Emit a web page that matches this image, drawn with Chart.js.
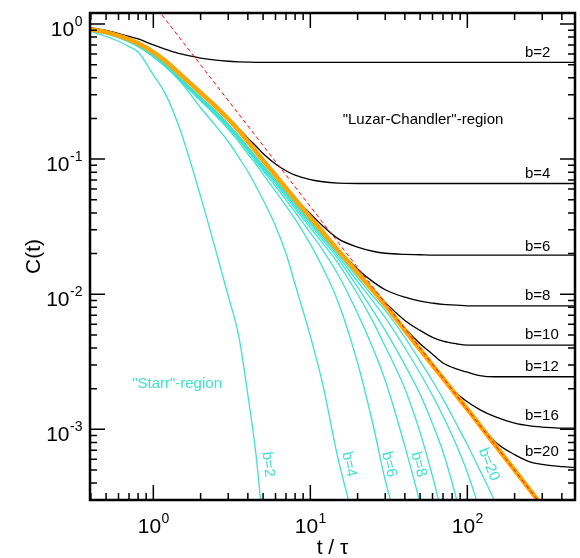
<!DOCTYPE html>
<html>
<head>
<meta charset="utf-8">
<script src="https://cdn.jsdelivr.net/npm/chart.js@4.4.0/dist/chart.umd.min.js"></script>
<style>
  html, body { margin: 0; padding: 0; background: #fff; }
  canvas { display: block; }
</style>
</head>
<body>
<canvas id="corrChart" width="580" height="558"></canvas>
<script>
// t / tau grid shared by all curves
var times = [0.4, 0.5, 0.6, 0.7, 0.8, 1, 1.2, 1.5, 2, 2.5, 3, 3.5, 4, 4.5, 5, 6, 7, 8, 10, 12, 15, 20, 25, 30, 40, 50, 60, 70, 85, 100, 120, 150, 200, 250, 300, 400, 500];

// bulk (b -> infinity) curve, thick orange
var masterC = [0.91, 0.87, 0.82, 0.77, 0.72, 0.62, 0.53, 0.42, 0.31, 0.245, 0.198, 0.163, 0.135, 0.114, 0.098, 0.076, 0.061, 0.0505, 0.0370, 0.0288, 0.0212, 0.0144, 0.0107, 0.0083, 0.0054, 0.0039, 0.00298, 0.00238, 0.00179, 0.00141, 0.00107, 0.000767, 0.000499, 0.000357, 0.000271, null, null];

// power law guide t^-3/2 (red dashed)
var guideT = [1, 300];
var guideC = [1.41, 0.000271];

// black curves ("Luzar-Chandler")
var lcB2 = [0.94, 0.895, 0.85, 0.81, 0.775, 0.70, 0.65, 0.60, 0.56, 0.54, 0.53, 0.525, 0.522, 0.52, 0.52, 0.52, 0.52, 0.52, 0.52, 0.52, 0.52, 0.52, 0.52, 0.52, 0.52, 0.52, 0.52, 0.52, 0.52, 0.52, 0.52, 0.52, 0.52, 0.52, 0.52, 0.52, 0.52];
var lcB4 = [null, null, null, null, null, null, null, null, null, 0.246, 0.20, 0.168, 0.143, 0.125, 0.110, 0.092, 0.082, 0.076, 0.0705, 0.068, 0.0665, 0.066, 0.066, 0.066, 0.066, 0.066, 0.066, 0.066, 0.066, 0.066, 0.066, 0.066, 0.066, 0.066, 0.066, 0.066, 0.066];
var lcB6 = [null, null, null, null, null, null, null, null, null, null, null, null, null, null, null, null, 0.0612, 0.0512, 0.0395, 0.032, 0.0258, 0.0223, 0.0208, 0.0201, 0.0197, 0.0196, 0.0195, 0.0195, 0.0195, 0.0195, 0.0195, 0.0195, 0.0195, 0.0195, 0.0195, 0.0195, 0.0195];
var lcB8 = [null, null, null, null, null, null, null, null, null, null, null, null, null, null, null, null, null, null, null, 0.029, 0.0216, 0.0153, 0.0124, 0.0108, 0.0095, 0.0089, 0.0086, 0.0084, 0.0083, 0.0082, 0.0082, 0.0082, 0.0082, 0.0082, 0.0082, 0.0082, 0.0082];
var lcB10 = [null, null, null, null, null, null, null, null, null, null, null, null, null, null, null, null, null, null, null, null, null, 0.0145, 0.0110, 0.0087, 0.0064, 0.0054, 0.0048, 0.0045, 0.0043, 0.0042, 0.0042, 0.0042, 0.0042, 0.0042, 0.0042, 0.0042, 0.0042];
var lcB12 = [null, null, null, null, null, null, null, null, null, null, null, null, null, null, null, null, null, null, null, null, null, null, null, 0.0084, 0.0056, 0.0043, 0.0036, 0.0031, 0.0028, 0.00265, 0.0025, 0.00245, 0.00245, 0.00245, 0.00245, 0.00245, 0.00245];
var lcB16 = [null, null, null, null, null, null, null, null, null, null, null, null, null, null, null, null, null, null, null, null, null, null, null, null, null, null, 0.0030, 0.0024, 0.00186, 0.0016, 0.0014, 0.00124, 0.00111, 0.00106, 0.00104, 0.00102, 0.00102];
var lcB20 = [null, null, null, null, null, null, null, null, null, null, null, null, null, null, null, null, null, null, null, null, null, null, null, null, null, null, null, null, null, 0.00142, 0.0011, 0.00081, 0.00065, 0.000575, 0.00055, 0.00053, 0.00052];

// cyan curves ("Starr")
var stB2 = [0.88, 0.81, 0.745, 0.68, 0.62, 0.42, 0.30, 0.158, 0.053, 0.021, 0.0097, 0.0049, 0.0018, 0.00066, 0.00019, null, null, null, null, null, null, null, null, null, null, null, null, null, null, null, null, null, null, null, null, null, null];
var stB4 = [0.89, 0.85, 0.80, 0.75, 0.69, 0.57, 0.48, 0.37, 0.24, 0.176, 0.135, 0.103, 0.081, 0.063, 0.050, 0.032, 0.020, 0.0118, 0.0049, 0.00215, 0.00061, 0.00017, null, null, null, null, null, null, null, null, null, null, null, null, null, null, null];
var stB6 = [0.896, 0.848, 0.791, 0.735, 0.680, 0.574, 0.482, 0.374, 0.270, 0.209, 0.166, 0.134, 0.109, 0.092, 0.077, 0.058, 0.045, 0.036, 0.0235, 0.0157, 0.0088, 0.0031, 0.0011, 0.00042, 0.00013, null, null, null, null, null, null, null, null, null, null, null, null];
var stB8 = [0.898, 0.851, 0.794, 0.739, 0.684, 0.578, 0.487, 0.378, 0.274, 0.214, 0.171, 0.139, 0.114, 0.096, 0.082, 0.063, 0.050, 0.0405, 0.0285, 0.0212, 0.0140, 0.0072, 0.0040, 0.0023, 0.00075, 0.00028, 0.0001, null, null, null, null, null, null, null, null, null, null];
var stB10 = [0.901, 0.853, 0.796, 0.742, 0.687, 0.582, 0.49, 0.382, 0.278, 0.217, 0.174, 0.142, 0.117, 0.0985, 0.0845, 0.066, 0.0525, 0.0430, 0.0310, 0.0238, 0.0170, 0.0100, 0.0063, 0.0041, 0.0020, 0.00095, 0.00045, 0.00022, null, null, null, null, null, null, null, null, null];
var stB12 = [0.901, 0.854, 0.799, 0.744, 0.690, 0.585, 0.493, 0.386, 0.281, 0.221, 0.177, 0.145, 0.119, 0.101, 0.0865, 0.068, 0.0545, 0.0448, 0.0325, 0.0252, 0.0183, 0.0113, 0.0076, 0.0054, 0.0030, 0.00182, 0.0011, 0.00068, 0.00031, 0.00014, null, null, null, null, null, null, null];
var stB16 = [0.903, 0.857, 0.801, 0.747, 0.693, 0.588, 0.497, 0.39, 0.285, 0.224, 0.180, 0.147, 0.121, 0.103, 0.0885, 0.0695, 0.0560, 0.0462, 0.0338, 0.0263, 0.0192, 0.0124, 0.0089, 0.0067, 0.0040, 0.0026, 0.00178, 0.00125, 0.00077, 0.00048, 0.00025, 0.0001, null, null, null, null, null];
var stB20 = [0.905, 0.86, 0.804, 0.75, 0.696, 0.591, 0.50, 0.394, 0.288, 0.227, 0.182, 0.149, 0.1235, 0.1045, 0.0900, 0.0705, 0.0570, 0.0472, 0.0347, 0.0271, 0.0199, 0.0133, 0.0097, 0.0076, 0.0048, 0.0032, 0.00228, 0.00168, 0.0011, 0.00077, 0.0005, 0.00029, 0.00012, null, null, null, null];

// curve labels
var lcLabels = ['b=2', 'b=4', 'b=6', 'b=8', 'b=10', 'b=12', 'b=16', 'b=20'];
var lcLabelC = [0.570, 0.0728, 0.0208, 0.00902, 0.00470, 0.00269, 0.00117, 0.000634];
var stLabels = ['b=2', 'b=4', 'b=6', 'b=8', 'b=20'];
var stLabelT = [5.38, 17.6, 31.7, 48.9, 137];

// axis ticks
var xTickValues = [1, 10, 100];
var xTickExps = ['0', '1', '2'];
var yTickValues = [1, 0.1, 0.01, 0.001];
var yTickExps = ['0', '-1', '-2', '-3'];

var BLACK = '#000000';
var CYAN = '#40e0d0';
var FONT = "'Liberation Sans', Arial, sans-serif";

function curve(vals, color, width) {
    return {
        data: times.map(function (t, i) { return { x: t, y: vals[i] }; }),
        borderColor: color,
        borderWidth: width,
        pointRadius: 0,
        fill: false,
        cubicInterpolationMode: 'monotone',
        clip: 0
    };
}

// superscript label "10^e"
function powerLabel(ctx, exp, x, y, align) {
    ctx.font = '21px ' + FONT;
    var w1 = ctx.measureText('10').width;
    ctx.font = '14px ' + FONT;
    var w2 = ctx.measureText(exp).width;
    var left = align === 'right' ? x - w1 - w2 : x - (w1 + w2) / 2;
    ctx.textAlign = 'left';
    ctx.textBaseline = 'alphabetic';
    ctx.font = '21px ' + FONT;
    ctx.fillText('10', left, y);
    ctx.font = '14px ' + FONT;
    ctx.fillText(exp, left + w1 + 0.5, y - 10);
}

var decorPlugin = {
    id: 'decor',
    afterDraw: function (chart) {
        var ctx = chart.ctx;
        var a = chart.chartArea;
        var xs = chart.scales.x, ys = chart.scales.y;
        ctx.save();

        // inward ticks on all four sides
        ctx.strokeStyle = BLACK;
        ctx.lineWidth = 1.5;
        ctx.beginPath();
        [0.1, 1, 10, 100].forEach(function (d) {
            for (var m = 1; m <= 9; m++) {
                var v = m * d;
                if (v < xs.min || v > xs.max) continue;
                var px = xs.getPixelForValue(v);
                var len = m === 1 ? 15 : 7;
                ctx.moveTo(px, a.bottom); ctx.lineTo(px, a.bottom - len);
                ctx.moveTo(px, a.top); ctx.lineTo(px, a.top + len);
            }
        });
        [0.0001, 0.001, 0.01, 0.1, 1].forEach(function (d) {
            for (var m = 1; m <= 9; m++) {
                var v = m * d;
                if (v < ys.min || v > ys.max) continue;
                var py = ys.getPixelForValue(v);
                var len = m === 1 ? 15 : 7;
                ctx.moveTo(a.left, py); ctx.lineTo(a.left + len, py);
                ctx.moveTo(a.right, py); ctx.lineTo(a.right - len, py);
            }
        });
        ctx.stroke();

        // frame
        ctx.lineWidth = 2.5;
        ctx.strokeRect(a.left, a.top, a.right - a.left, a.bottom - a.top);

        // tick labels
        ctx.fillStyle = BLACK;
        xTickValues.forEach(function (v, i) {
            powerLabel(ctx, xTickExps[i], xs.getPixelForValue(v), a.bottom + 33, 'center');
        });
        yTickValues.forEach(function (v, i) {
            powerLabel(ctx, yTickExps[i], 82, ys.getPixelForValue(v) + 12, 'right');
        });

        // axis titles
        ctx.font = '21px ' + FONT;
        ctx.textAlign = 'center';
        ctx.textBaseline = 'alphabetic';
        ctx.fillText('t / \u03c4', (a.left + a.right) / 2, 554);
        ctx.save();
        ctx.translate(40, (a.top + a.bottom) / 2);
        ctx.rotate(-Math.PI / 2);
        ctx.fillText('C(t)', 0, 0);
        ctx.restore();

        // black curve labels
        ctx.font = '15px ' + FONT;
        ctx.textAlign = 'left';
        lcLabels.forEach(function (s, i) {
            ctx.fillText(s, xs.getPixelForValue(233), ys.getPixelForValue(lcLabelC[i]));
        });
        ctx.textAlign = 'center';
        ctx.fillText('"Luzar-Chandler"-region', xs.getPixelForValue(52.2), ys.getPixelForValue(0.1824));

        // cyan labels
        ctx.fillStyle = CYAN;
        ctx.fillText('"Starr"-region', xs.getPixelForValue(1.416), ys.getPixelForValue(0.00204));
        var rot = [83, 78, 76, 75, 68];
        ctx.textBaseline = 'middle';
        stLabels.forEach(function (s, i) {
            ctx.save();
            ctx.translate(xs.getPixelForValue(stLabelT[i]), ys.getPixelForValue(0.00055));
            ctx.rotate(rot[i] * Math.PI / 180);
            ctx.fillText(s, 0, 0);
            ctx.restore();
        });
        ctx.restore();
    }
};

var guide = {
    data: guideT.map(function (t, i) { return { x: t, y: guideC[i] }; }),
    borderColor: '#ff0000',
    borderWidth: 1,
    borderDash: [4, 3],
    pointRadius: 0,
    fill: false,
    clip: 0
};

// first dataset is drawn on top
var datasets = [guide, curve(masterC, '#ffa500', 4.5)];
[lcB2, lcB4, lcB6, lcB8, lcB10, lcB12, lcB16, lcB20].forEach(function (c) {
    datasets.push(curve(c, BLACK, 1.3));
});
[stB2, stB4, stB6, stB8, stB10, stB12, stB16, stB20].forEach(function (c) {
    datasets.push(curve(c, CYAN, 1.3));
});

var ctx = document.getElementById('corrChart').getContext('2d');
new Chart(ctx, {
    type: 'line',
    data: { datasets: datasets },
    options: {
        responsive: false,
        animation: false,
        devicePixelRatio: 1,
        events: [],
        layout: { padding: { left: 90, top: 13, right: 5, bottom: 58 } },
        plugins: { legend: { display: false }, tooltip: { enabled: false } },
        scales: {
            x: { type: 'logarithmic', min: 0.395, max: 485, display: false },
            y: { type: 'logarithmic', min: 3.03e-4, max: 1.206, display: false }
        }
    },
    plugins: [decorPlugin]
});
</script>
</body>
</html>
